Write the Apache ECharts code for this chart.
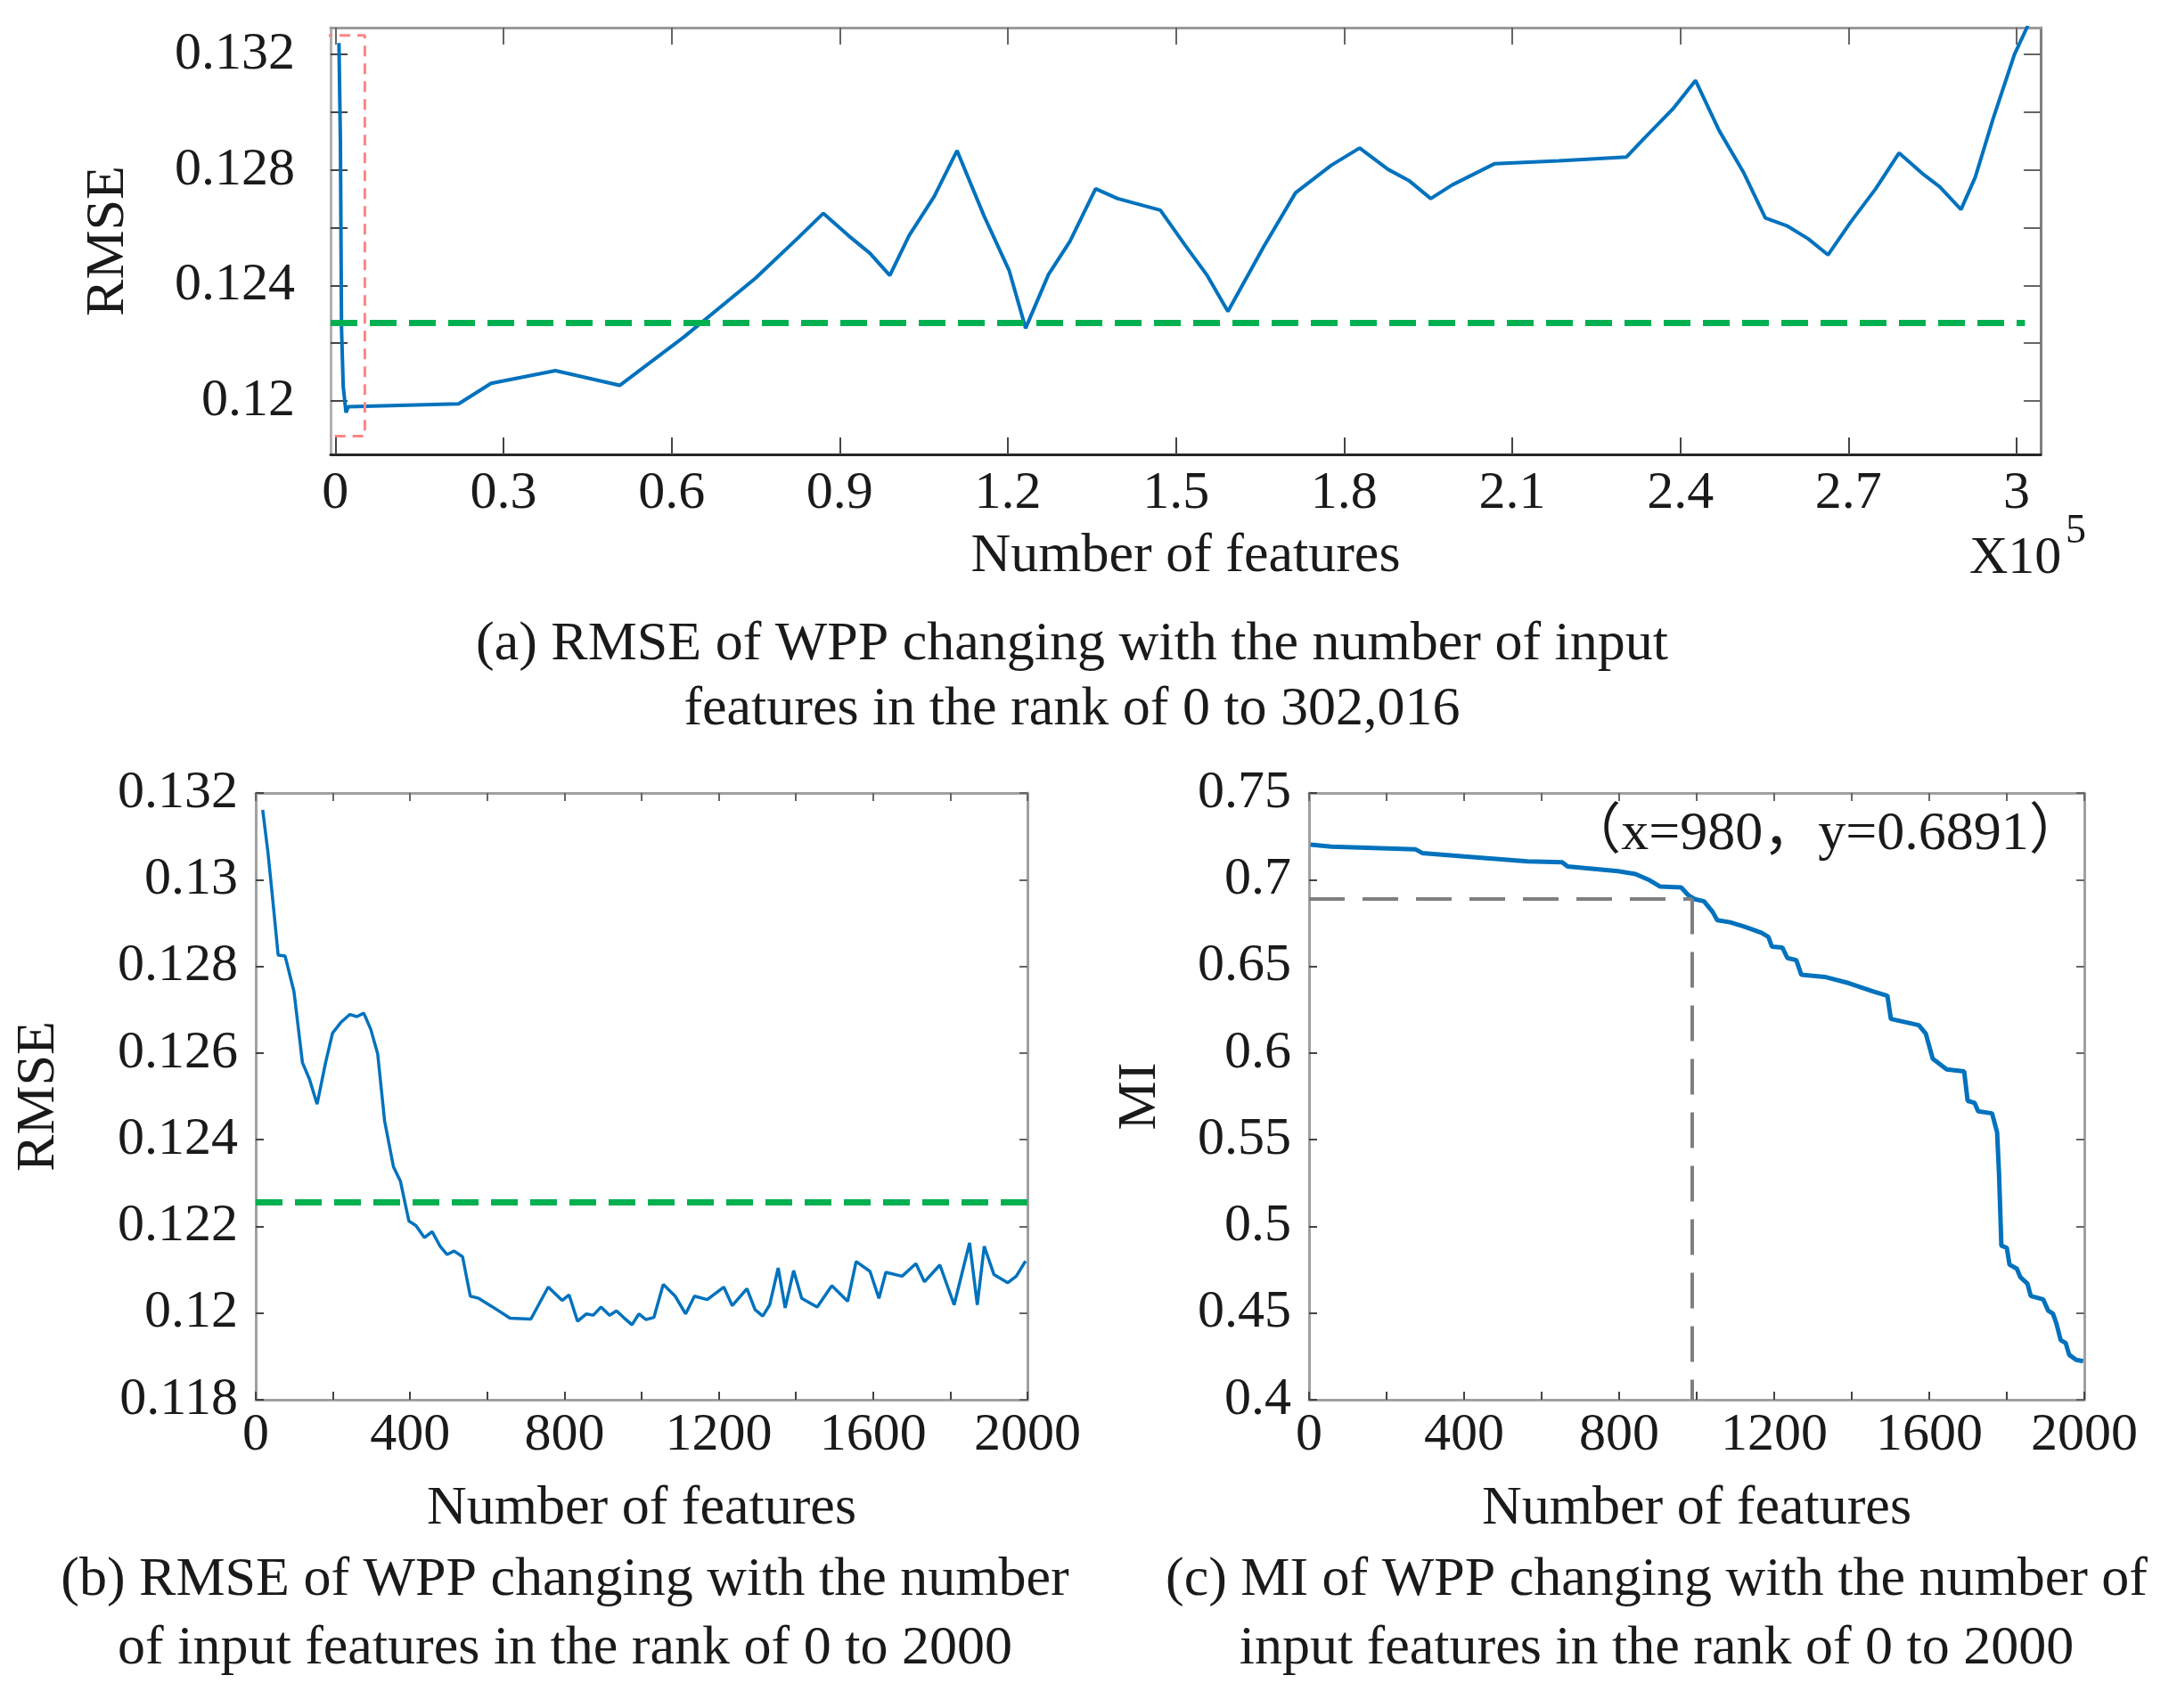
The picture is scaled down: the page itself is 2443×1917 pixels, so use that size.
<!DOCTYPE html>
<html>
<head>
<meta charset="utf-8">
<script src="https://cdn.jsdelivr.net/npm/echarts@6/dist/echarts.min.js"></script>
<style>
html, body { margin: 0; background: #fff; }
#main { width: 2443px; height: 1917px; }
</style>
</head>
<body>
<div id="main"></div>
<script>
// (a) RMSE over the full feature range (0 .. 302,016)
var topX = [640, 900, 1100, 1400, 1900, 2300, 22000, 27790, 39270, 50740, 62220, 74970, 82620, 87080,
  91540, 95370, 98940, 102380, 106850, 110930, 115770, 120230, 123170, 127250, 131080, 135660,
  139590, 147210, 151650, 155460, 159270, 165620, 171340, 177690, 182770, 187850, 191660, 195470,
  199280, 206900, 218330, 230400, 233570, 238650, 242720, 246910, 251350, 255170, 258980, 262790,
  266350, 270410, 274860, 279040, 283110, 286280, 290090, 292630, 295810, 299620, 302016];
var topY = [0.1324, 0.1290, 0.1225, 0.1205, 0.1196, 0.1198, 0.1199, 0.12061, 0.12105, 0.12054, 0.12222,
  0.12425, 0.12566, 0.1265, 0.12573, 0.12512, 0.12435, 0.12573, 0.12708, 0.12867, 0.1264, 0.12452,
  0.12252, 0.12438, 0.12553, 0.12735, 0.12701, 0.12661, 0.12539, 0.12438, 0.1231, 0.12533, 0.12721,
  0.12816, 0.12876, 0.12802, 0.12762, 0.12701, 0.12748, 0.12822, 0.12832, 0.12845, 0.1291, 0.13011,
  0.1311, 0.12937, 0.12789, 0.12634, 0.12607, 0.12562, 0.12506, 0.1262, 0.12735, 0.12859, 0.12789,
  0.12742, 0.12663, 0.12775, 0.12977, 0.132, 0.1330];
var topBaseline = 0.1227;
var topBaselineEnd = 301500;
var zoomBoxX = [-2440, 5260];
var zoomBoxY = [0.11878, 0.13266];

// (b) RMSE for 0 .. 2000 features
var rmseX = [18, 32, 45, 58, 76, 99, 121, 139, 159, 181, 199, 220, 244, 262, 280, 298, 316, 334, 357, 375,
  397, 415, 437, 457, 478, 496, 514, 536, 556, 578, 614, 659, 713, 758, 794, 812, 834, 857, 875, 895,
  917, 935, 953, 975, 993, 1011, 1032, 1056, 1087, 1114, 1137, 1170, 1213, 1235, 1273, 1294, 1314,
  1332, 1354, 1372, 1394, 1415, 1455, 1493, 1534, 1556, 1592, 1615, 1633, 1675, 1711, 1733, 1773,
  1810, 1850, 1870, 1888, 1913, 1949, 1971, 1995];
var rmseY = [0.13161, 0.1306, 0.12945, 0.12826, 0.12824, 0.12742, 0.12578, 0.1254, 0.12482, 0.12578,
  0.12646, 0.1267, 0.12689, 0.12684, 0.12692, 0.12655, 0.12598, 0.12443, 0.12337, 0.12304, 0.12212,
  0.12202, 0.12174, 0.12188, 0.12154, 0.12135, 0.12143, 0.1213, 0.12039, 0.12034, 0.12014, 0.11988,
  0.11986, 0.1206, 0.12029, 0.12042, 0.11981, 0.11998, 0.11995, 0.12014, 0.11995, 0.12005, 0.1199,
  0.11973, 0.11998, 0.11985, 0.1199, 0.12066, 0.12039, 0.11998, 0.12039, 0.12031, 0.1206, 0.12017,
  0.12056, 0.12008, 0.11993, 0.12019, 0.12104, 0.12012, 0.12098, 0.12034, 0.12014, 0.12063, 0.12027,
  0.12119, 0.12096, 0.12034, 0.12094, 0.12085, 0.12114, 0.12072, 0.12111, 0.12019, 0.12162, 0.12019,
  0.12154, 0.12089, 0.1207, 0.12085, 0.1212];
var rmseBaseline = 0.12255;

// (c) MI for 0 .. 2000 features
var miX = [4, 58, 274, 292, 400, 563, 653, 667, 797, 842, 879, 906, 960, 978, 996, 1019, 1041, 1053, 1086,
  1122, 1167, 1185, 1194, 1221, 1234, 1257, 1270, 1330, 1393, 1456, 1492, 1501, 1573, 1591, 1609, 1645,
  1690, 1699, 1717, 1726, 1762, 1775, 1780, 1786, 1800, 1807, 1826, 1835, 1853, 1862, 1894, 1907, 1919,
  1928, 1939, 1952, 1961, 1979, 1997];
var miY = [0.7202, 0.719, 0.71754, 0.71536, 0.71342, 0.71051, 0.71003, 0.7076, 0.70494, 0.70324, 0.69961,
  0.69598, 0.6955, 0.69113, 0.6887, 0.6875, 0.68144, 0.6766, 0.6754, 0.67296, 0.66933, 0.6669, 0.66134,
  0.66085, 0.6548, 0.6536, 0.64511, 0.6439, 0.64026, 0.63541, 0.633, 0.61967, 0.61604, 0.61119, 0.59666,
  0.5906, 0.58939, 0.57243, 0.57122, 0.56638, 0.56516, 0.55426, 0.53004, 0.48886, 0.48765, 0.47796,
  0.47554, 0.47069, 0.46706, 0.45979, 0.45786, 0.45132, 0.44963, 0.44405, 0.43436, 0.43267, 0.42588,
  0.42297, 0.42224];
var miMarkX = 988;
var miMarkY = 0.6891;
var miNote = '（x=980，y=0.6891）';
var miNoteAt = [1331, 0.7258];

// tick positions and labels
var topXLabels = [0, 30000, 60000, 90000, 120000, 150000, 180000, 210000, 240000, 270000, 300000];
var topYTicks = [0.12, 0.122, 0.124, 0.126, 0.128, 0.13, 0.132];
var topYLabels = [0.12, 0.124, 0.128, 0.132];
var featLabels = [0, 400, 800, 1200, 1600, 2000];
var featTicks = [0, 200, 400, 600, 800, 1000, 1200, 1400, 1600, 1800, 2000];
var rmseTicks = [0.118, 0.12, 0.122, 0.124, 0.126, 0.128, 0.13, 0.132];
var miTicks = [0.4, 0.45, 0.5, 0.55, 0.6, 0.65, 0.7, 0.75];

var FONT = '"Liberation Serif", "Times New Roman", serif';
var INK = '#1a1a1a';
var BLUE = '#0072BD';
var GREEN = '#00B050';

function pairs(xs, ys) {
  return xs.map(function (x, i) { return [x, ys[i]]; });
}

function xAxes(grid, min, max, tickVals, labelVals, fmt, tickLen, bottomColor, topColor, name, nameGap, labelMargin) {
  return [{
    type: 'value', gridIndex: grid, position: 'bottom', min: min, max: max,
    name: name, nameLocation: 'middle', nameGap: nameGap,
    nameTextStyle: { fontFamily: FONT, fontSize: 62, color: INK },
    axisLine: { show: true, onZero: false, lineStyle: { color: bottomColor, width: 3 } },
    axisTick: { show: true, inside: true, length: tickLen, customValues: tickVals, lineStyle: { color: '#444', width: 2 } },
    axisLabel: { show: true, customValues: labelVals, formatter: fmt, margin: labelMargin,
      fontFamily: FONT, fontSize: 60, color: INK },
    splitLine: { show: false }
  }, {
    type: 'value', gridIndex: grid, position: 'top', min: min, max: max,
    axisLine: { show: true, onZero: false, lineStyle: { color: topColor, width: 3 } },
    axisTick: { show: true, inside: true, length: tickLen, customValues: tickVals, lineStyle: { color: '#666', width: 2 } },
    axisLabel: { show: false },
    splitLine: { show: false }
  }];
}

function yAxes(grid, min, max, tickVals, labelVals, fmt, tickLen, leftColor, rightColor, name, nameGap, labelMargin) {
  return [{
    type: 'value', gridIndex: grid, position: 'left', min: min, max: max,
    name: name, nameLocation: 'middle', nameGap: nameGap,
    nameTextStyle: { fontFamily: FONT, fontSize: 62, color: INK },
    axisLine: { show: true, onZero: false, lineStyle: { color: leftColor, width: 3 } },
    axisTick: { show: true, inside: true, length: tickLen, customValues: tickVals, lineStyle: { color: '#444', width: 2 } },
    axisLabel: { show: true, customValues: labelVals, formatter: fmt, margin: labelMargin,
      fontFamily: FONT, fontSize: 60, color: INK },
    splitLine: { show: false }
  }, {
    type: 'value', gridIndex: grid, position: 'right', min: min, max: max,
    axisLine: { show: true, onZero: false, lineStyle: { color: rightColor, width: 3 } },
    axisTick: { show: true, inside: true, length: tickLen, customValues: tickVals, lineStyle: { color: '#666', width: 2 } },
    axisLabel: { show: false },
    splitLine: { show: false }
  }];
}

var fmtE5 = function (v) { return String(+(v / 1e5).toFixed(1)); };
var fmt3 = function (v) { return String(+v.toFixed(3)); };
var fmt2 = function (v) { return String(+v.toFixed(2)); };
var fmtInt = function (v) { return String(v); };

var chart = echarts.init(document.getElementById('main'), null, { renderer: 'canvas' });

var option = {
  backgroundColor: '#ffffff',
  animation: false,
  grid: [
    { left: 371, top: 31, width: 1919, height: 479 },
    { left: 287, top: 890, width: 866, height: 681 },
    { left: 1469, top: 890, width: 870, height: 681 }
  ],
  xAxis: []
    .concat(xAxes(0, -850, 304300, topXLabels, topXLabels, fmtE5, 19, '#262626', '#9a9a9a', 'Number of features', 84, 14))
    .concat(xAxes(1, 0, 2000, featTicks, featLabels, fmtInt, 9, '#a0a0a0', '#a0a0a0', 'Number of features', 92, 10))
    .concat(xAxes(2, 0, 2000, featTicks, featLabels, fmtInt, 9, '#a0a0a0', '#a0a0a0', 'Number of features', 92, 10)),
  yAxis: []
    .concat(yAxes(0, 0.11815, 0.13293, topYTicks, topYLabels, fmt3, 19, '#b0b0b0', '#808080', 'RMSE', 218, 40))
    .concat(yAxes(1, 0.118, 0.132, rmseTicks, rmseTicks, fmt3, 9, '#a0a0a0', '#a0a0a0', 'RMSE', 212, 20))
    .concat(yAxes(2, 0.4, 0.75, miTicks, miTicks, fmt2, 9, '#a0a0a0', '#a0a0a0', 'MI', 158, 20)),
  series: [
    {
      type: 'line', xAxisIndex: 0, yAxisIndex: 0, showSymbol: false, symbol: 'none',
      data: pairs(topX, topY),
      lineStyle: { color: BLUE, width: 4 },
      markLine: {
        silent: true, symbol: 'none', label: { show: false },
        lineStyle: { color: GREEN, width: 7, type: [30, 14] },
        data: [[{ coord: [-850, topBaseline] }, { coord: [topBaselineEnd, topBaseline] }]]
      }
    },
    {
      type: 'line', xAxisIndex: 0, yAxisIndex: 0, showSymbol: false, symbol: 'none', clip: false,
      data: [[zoomBoxX[0], zoomBoxY[1]], [zoomBoxX[1], zoomBoxY[1]], [zoomBoxX[1], zoomBoxY[0]],
        [zoomBoxX[0], zoomBoxY[0]], [zoomBoxX[0], zoomBoxY[1]]],
      lineStyle: { color: '#ff8585', width: 3, type: [12, 8] }
    },
    {
      type: 'line', xAxisIndex: 2, yAxisIndex: 2, showSymbol: false, symbol: 'none',
      data: pairs(rmseX, rmseY),
      lineStyle: { color: BLUE, width: 3.5 },
      markLine: {
        silent: true, symbol: 'none', label: { show: false },
        lineStyle: { color: GREEN, width: 7, type: [30, 14] },
        data: [[{ coord: [0, rmseBaseline] }, { coord: [2000, rmseBaseline] }]]
      }
    },
    {
      type: 'line', xAxisIndex: 4, yAxisIndex: 4, showSymbol: false, symbol: 'none',
      data: pairs(miX, miY),
      lineStyle: { color: BLUE, width: 5 },
      markLine: {
        silent: true, symbol: 'none', label: { show: false },
        lineStyle: { color: '#7f7f7f', width: 4, type: [40, 20] },
        data: [
          [{ coord: [0, miMarkY] }, { coord: [miMarkX, miMarkY] }],
          [{ coord: [miMarkX, miMarkY] }, { coord: [miMarkX, 0.4] }]
        ]
      },
      markPoint: {
        silent: true, symbol: 'rect', symbolSize: 1,
        itemStyle: { color: 'transparent' },
        label: { show: true, position: 'inside', formatter: miNote,
          fontFamily: FONT + ', "Noto Sans CJK SC"', fontSize: 62, color: INK },
        data: [{ coord: miNoteAt }]
      }
    }
  ],
  graphic: [
    { type: 'text', left: 2210, top: 597, style: { text: 'X10', fontFamily: FONT, fontSize: 60, fill: INK } },
    { type: 'text', left: 2318, top: 574, style: { text: '5', fontFamily: FONT, fontSize: 46, fill: INK } },
    { type: 'text', x: 1203, y: 760, style: {
      text: '(a) RMSE of WPP changing with the number of input\nfeatures in the rank of 0 to 302,016',
      fontFamily: FONT, fontSize: 62, lineHeight: 73, fill: INK, align: 'center', verticalAlign: 'middle' } },
    { type: 'text', x: 634, y: 1812, style: {
      text: '(b) RMSE of WPP changing with the number\nof input features in the rank of 0 to 2000',
      fontFamily: FONT, fontSize: 62, lineHeight: 77, fill: INK, align: 'center', verticalAlign: 'middle' } },
    { type: 'text', x: 1859, y: 1812, style: {
      text: '(c) MI of WPP changing with the number of\ninput features in the rank of 0 to 2000',
      fontFamily: FONT, fontSize: 62, lineHeight: 77, fill: INK, align: 'center', verticalAlign: 'middle' } }
  ]
};

chart.setOption(option);
</script>
</body>
</html>
